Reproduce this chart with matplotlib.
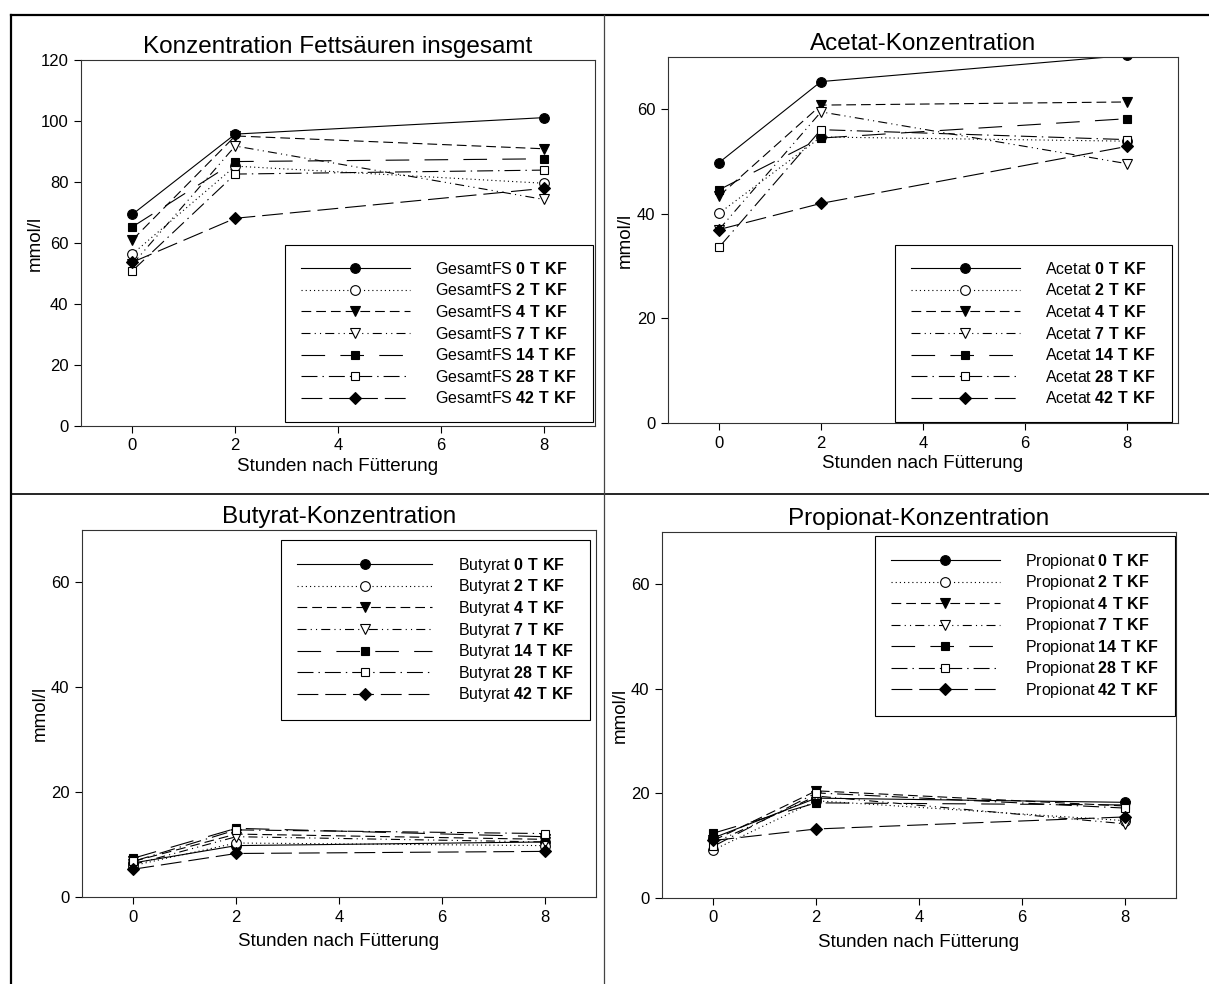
import matplotlib
matplotlib.use('Agg')
import matplotlib.pyplot as plt
from matplotlib.lines import Line2D

plt.rcParams['font.family'] = ['Liberation Sans', 'DejaVu Sans']
plt.rcParams['mathtext.fontset'] = 'custom'
plt.rcParams['mathtext.rm'] = 'Liberation Sans'
plt.rcParams['mathtext.bf'] = 'Liberation Sans:bold'
plt.rcParams['lines.scale_dashes'] = False

# Stunden nach Fütterung
hours = [0, 2, 8]
tage = ['0', '2', '4', '7', '14', '28', '42']

# mmol/l, eine Zeile je Tag (0, 2, 4, 7, 14, 28, 42 T KF)
gesamt = [
    [69.4, 95.7, 101.1],
    [56.4, 85.2, 79.6],
    [61.0, 95.1, 90.9],
    [53.0, 91.8, 74.3],
    [65.3, 86.7, 87.6],
    [50.9, 82.6, 83.9],
    [53.7, 68.1, 77.9],
]
acetat = [
    [49.8, 65.3, 70.3],
    [40.1, 54.7, 53.9],
    [43.4, 60.8, 61.4],
    [37.0, 59.5, 49.6],
    [44.6, 54.5, 58.2],
    [33.6, 56.1, 54.2],
    [37.0, 42.0, 52.9],
]
butyrat = [
    [6.5, 9.8, 10.5],
    [6.0, 10.3, 9.8],
    [6.8, 12.0, 11.0],
    [6.2, 11.5, 10.5],
    [7.4, 13.1, 11.5],
    [6.8, 12.8, 12.1],
    [5.3, 8.3, 8.7],
]
propionat = [
    [11.5, 19.1, 18.3],
    [9.2, 18.6, 14.8],
    [11.0, 20.5, 17.6],
    [10.5, 19.5, 14.2],
    [12.4, 18.2, 17.8],
    [9.9, 20.1, 17.2],
    [11.0, 13.2, 15.5],
]

# linestyle, marker, gefuellt, markersize
styles = [
    ('-', 'o', True, 7),
    ((0, (0.8, 2.2)), 'o', False, 7),
    ((0, (7, 3.6)), 'v', True, 7),
    ((0, (6.5, 3, 0.8, 3, 0.8, 3)), 'v', False, 7),
    ((0, (17, 11)), 's', True, 6),
    ((0, (11.5, 3.6, 1, 3.6)), 's', False, 6),
    ((0, (15, 5)), 'D', True, 6),
]

W, H = 1209, 984
fig = plt.figure(figsize=(W / 100, H / 100), dpi=100)


def panel(box, title, values, name, ylim, yticks, loc, anchor,
          ylab_x, hlen=6.8, lspace=0.35, xpad=3):
    l, t, r, b = box
    ax = fig.add_axes([l / W, 1 - b / H, (r - l) / W, (b - t) / H])
    for i, row in enumerate(values):
        ls, mk, filled, ms = styles[i]
        ax.plot(hours, row, linestyle=ls, color='black', lw=0.8,
                marker=mk, ms=ms, mfc='black' if filled else 'white',
                mec='black', mew=0.8,
                label=name + ' $\\mathbf{' + tage[i] + '\\ T\\ KF}$')
    ax.set_xlim(-1, 9)
    ax.set_ylim(*ylim)
    ax.set_xticks([0, 2, 4, 6, 8])
    ax.set_yticks(yticks)
    ax.tick_params(direction='out', length=5, width=0.8, labelsize=12, pad=4)
    for s in ax.spines.values():
        s.set_linewidth(0.8)
        s.set_color('#333333')
    ax.set_title(title, fontsize=17.5, pad=5)
    ax.set_xlabel('Stunden nach Fütterung', fontsize=13.5, labelpad=xpad)
    ax.set_ylabel('mmol/l', fontsize=13.5)
    ax.yaxis.set_label_coords((ylab_x - l) / (r - l), 0.5)
    leg = ax.legend(loc=loc, bbox_to_anchor=anchor, borderaxespad=0,
                    fontsize=11.5, handlelength=hlen, handletextpad=1.6,
                    labelspacing=lspace, borderpad=1.0, fancybox=False,
                    numpoints=1, framealpha=1)
    leg.get_frame().set_edgecolor('black')
    leg.get_frame().set_linewidth(0.8)
    return ax


panel((81, 60, 595, 426), 'Konzentration Fettsäuren insgesamt', gesamt,
      'GesamtFS', (0, 120), [0, 20, 40, 60, 80, 100, 120], 'lower right', (0.996, 0.01),
      44)
panel((668, 57, 1178, 423), 'Acetat-Konzentration', acetat,
      'Acetat', (0, 70), [0, 20, 40, 60], 'lower right', (0.988, 0.002),
      634)
panel((82, 530, 596, 897), 'Butyrat-Konzentration', butyrat,
      'Butyrat', (0, 70), [0, 20, 40, 60], 'upper right', (0.988, 0.973),
      49, hlen=8.5, lspace=0.16, xpad=6)
panel((662, 532, 1176, 898), 'Propionat-Konzentration', propionat,
      'Propionat', (0, 70), [0, 20, 40, 60], 'upper right', (0.998, 0.99),
      629, lspace=0.16, xpad=6)

# Rahmen und Trennlinien
x0, ytop = 11 / W, 1 - 15 / H
fig.add_artist(Line2D([x0, 1], [ytop, ytop], color='black', lw=1.6, transform=fig.transFigure))
fig.add_artist(Line2D([x0, x0], [0, ytop], color='black', lw=1.6, transform=fig.transFigure))
fig.add_artist(Line2D([x0, 1], [1 - 494 / H, 1 - 494 / H], color='black', lw=1.2, transform=fig.transFigure))
fig.add_artist(Line2D([604 / W, 604 / W], [0, ytop], color='#444444', lw=0.9, transform=fig.transFigure))

fig.savefig('out.png', dpi=100)
